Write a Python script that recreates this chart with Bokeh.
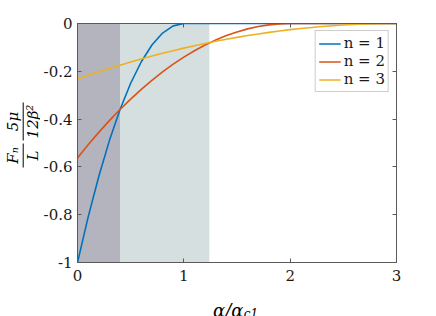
import math
from bokeh.plotting import figure
from bokeh.layouts import row, column
from bokeh.models import Range1d, LinearAxis, FixedTicker, Legend, LegendItem
from bokeh.core.properties import value
from bokeh.embed import file_html
from bokeh.resources import INLINE

# ---- data ----
x_vals = [0.0, 0.1, 0.2, 0.3, 0.4, 0.5, 0.6, 0.7, 0.8, 0.9, 1.0,
          1.1, 1.2, 1.3, 1.4, 1.5, 1.6, 1.7, 1.8, 1.9, 2.0,
          2.1, 2.2, 2.3, 2.4, 2.5, 2.6, 2.7, 2.8, 2.9, 3.0]
n1_vals = [-1.0, -0.81, -0.64, -0.49, -0.36, -0.25, -0.16, -0.09, -0.04, -0.01, 0.0,
           0.0, 0.0, 0.0, 0.0, 0.0, 0.0, 0.0, 0.0, 0.0, 0.0,
           0.0, 0.0, 0.0, 0.0, 0.0, 0.0, 0.0, 0.0, 0.0, 0.0]
n2_vals = [-0.5625, -0.5077, -0.4556, -0.4064, -0.36, -0.3164, -0.2756, -0.2377, -0.2025, -0.1702, -0.1406,
           -0.1139, -0.09, -0.0689, -0.0506, -0.0352, -0.0225, -0.0127, -0.0056, -0.0014, 0.0,
           0.0, 0.0, 0.0, 0.0, 0.0, 0.0, 0.0, 0.0, 0.0, 0.0]
n3_vals = [-0.232, -0.2168, -0.2021, -0.1879, -0.1743, -0.1611, -0.1485, -0.1364, -0.1248, -0.1137, -0.1031,
           -0.0931, -0.0835, -0.0745, -0.066, -0.058, -0.0505, -0.0436, -0.0371, -0.0312, -0.0258,
           -0.0209, -0.0165, -0.0126, -0.0093, -0.0064, -0.0041, -0.0023, -0.001, -0.0003, 0.0]
series_names = ["n = 1", "n = 2", "n = 3"]
region_left = [0.0, 0.40]
region_right = [0.40, 1.24]
x_ticks = [0, 1, 2, 3]
x_tick_labels = ["0", "1", "2", "3"]
y_ticks = [-1.0, -0.8, -0.6, -0.4, -0.2, 0.0]
y_tick_labels = ["-1", "-0.8", "-0.6", "-0.4", "-0.2", "0"]

FONT = "DejaVu Serif"
AX = "#5a5a5a"
TXT = "#1a1a1a"

# ---- main plot ----
p = figure(width=396, height=290, output_backend="svg", toolbar_location=None,
           x_range=Range1d(0, 3), y_range=Range1d(-1, 0),
           min_border_left=37, min_border_right=40, min_border_top=23, min_border_bottom=28)
p.xgrid.visible = False
p.ygrid.visible = False
p.outline_line_color = AX

p.quad(left=region_left, right=region_right, bottom=[-1, -1], top=[0, 0],
       fill_color=["#b4b4be", "#d5dfe0"], line_color=None)

colors = ["#0072BD", "#D95319", "#EDB120"]
renderers = []
for vals, c in zip([n1_vals, n2_vals, n3_vals], colors):
    renderers.append(p.line(x_vals, vals, line_color=c, line_width=1.6))

def style_axis(ax):
    ax.axis_line_color = AX
    ax.major_tick_line_color = AX
    ax.major_tick_in = 4
    ax.major_tick_out = 0
    ax.minor_tick_line_color = None
    ax.major_label_text_font = FONT
    ax.major_label_text_font_size = "15px"
    ax.major_label_text_color = TXT

p.xaxis.ticker = FixedTicker(ticks=x_ticks)
p.xaxis.major_label_overrides = {t: l for t, l in zip(x_ticks, x_tick_labels)}
p.yaxis.ticker = FixedTicker(ticks=y_ticks)
p.yaxis.major_label_overrides = {t: l for t, l in zip(y_ticks, y_tick_labels)}
p.xaxis.major_label_standoff = 7
p.yaxis.major_label_standoff = 5
style_axis(p.xaxis[0])
style_axis(p.yaxis[0])

ax_top = LinearAxis(ticker=FixedTicker(ticks=x_ticks), major_label_standoff=0,
                    major_label_overrides={t: "" for t in x_ticks})
style_axis(ax_top)
p.add_layout(ax_top, "above")
ax_right = LinearAxis(ticker=FixedTicker(ticks=y_ticks), major_label_standoff=0,
                      major_label_overrides={t: "" for t in y_ticks})
style_axis(ax_right)
p.add_layout(ax_right, "right")

legend = Legend(items=[LegendItem(label=n, renderers=[r]) for n, r in zip(series_names, renderers)],
                location="top_right", margin=7, padding=3, spacing=0,
                label_text_font=FONT, label_text_font_size="15px", label_text_font_style="normal",
                label_text_color=TXT,
                glyph_width=22, glyph_height=17, label_height=17, label_standoff=3,
                border_line_color="#999999", border_line_width=1,
                background_fill_color="white", background_fill_alpha=1)
p.add_layout(legend)

# ---- y label panel (page pixel coordinates) ----
ylab = figure(width=40, height=316, output_backend="svg", toolbar_location=None,
              x_range=Range1d(0, 40), y_range=Range1d(316, 0),
              min_border=0, outline_line_color=None)
ylab.axis.visible = False
ylab.grid.visible = False
ang = math.pi / 2
ylab.text(x=[21.5, 23.5], y=[155, 155], text=["Fₙ", "L"], angle=ang,
          text_align="center", text_baseline=["bottom", "top"],
          text_font=value(FONT), text_font_size="15px", text_font_style="italic", text_color="black")
ylab.text(x=[21.5, 23.5], y=[121, 121], text=["5μ", "12β²"], angle=ang,
          text_align="center", text_baseline=["bottom", "top"],
          text_font=value(FONT), text_font_size="15px", text_font_style="italic", text_color="black")
ylab.segment(x0=[22.7, 22.7], y0=[143, 102], x1=[22.7, 22.7], y1=[167, 140],
             line_color="black", line_width=1)

# ---- x label panel ----
xlab = figure(width=396, height=26, output_backend="svg", toolbar_location=None,
              x_range=Range1d(40, 436), y_range=Range1d(316, 290),
              min_border=0, outline_line_color=None)
xlab.axis.visible = False
xlab.grid.visible = False
xlab.text(x=[246], y=[310], text=["α/α"], text_align="right", text_baseline="alphabetic",
          text_font=value(FONT), text_font_size="18px", text_font_style="italic", text_color="black")
xlab.text(x=[246.5], y=[313], text=["c1"], text_align="left", text_baseline="alphabetic",
          text_font=value(FONT), text_font_size="12px", text_font_style="italic", text_color="black")

layout = row(ylab, column(p, xlab, spacing=0), spacing=0)
open("out.html", "w").write(file_html(layout, INLINE))
